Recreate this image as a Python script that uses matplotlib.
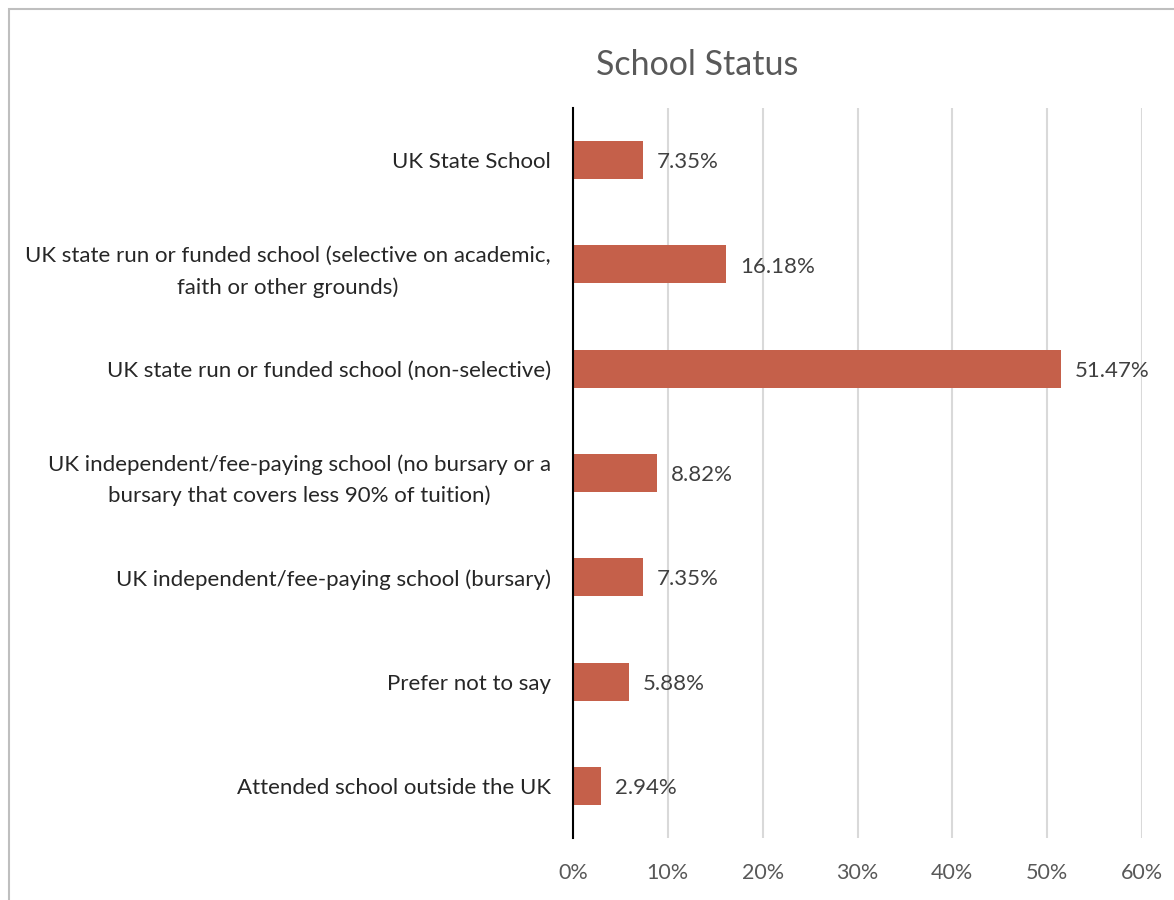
import matplotlib
matplotlib.use("Agg")
import matplotlib.pyplot as plt
from matplotlib.patches import Rectangle

categories = [
    "UK State School",
    "UK state run or funded school (selective on academic,\nfaith or other grounds)",
    "UK state run or funded school (non-selective)",
    "UK independent/fee-paying school (no bursary or a\nbursary that covers less 90% of tuition)",
    "UK independent/fee-paying school (bursary)",
    "Prefer not to say",
    "Attended school outside the UK",
]
values = [7.35, 16.18, 51.47, 8.82, 7.35, 5.88, 2.94]
xticks = [0, 10, 20, 30, 40, 50, 60]
xtick_labels = ["0%", "10%", "20%", "30%", "40%", "50%", "60%"]

plt.rcParams['font.family'] = ['Lato', 'DejaVu Sans']

fig = plt.figure(figsize=(11.74, 9.0), dpi=100)
ax = fig.add_axes([573/1174, 1-838/900, (1142-573)/1174, (838-108)/900])

n = len(categories)
ypos = list(range(n))
bar_color = "#C5604A"
ax.barh(ypos, values, height=0.365, color=bar_color, zorder=3)
ax.set_ylim(n - 0.5, -0.5)
ax.set_xlim(0, 60)

for y, v in zip(ypos, values):
    ax.annotate(f"{v:.2f}%", xy=(v, y), xytext=(10, -1.5), textcoords="offset points",
                va="center", ha="left", fontsize=16, color="#404040")

ax.set_yticks(ypos)
ax.set_yticklabels(categories, fontsize=16, color="#262626", linespacing=1.65)
ax.tick_params(axis='y', length=0, pad=16)
for lbl in ax.get_yticklabels():
    lbl.set_horizontalalignment('right')
    lbl.set_multialignment('center')

ax.set_xticks(xticks)
ax.set_xticklabels(xtick_labels, fontsize=15.5, color="#595959")
ax.tick_params(axis='x', length=0, pad=18)

ax.grid(axis='x', color="#D9D9D9", linewidth=1.5, zorder=0)
for s in ["top", "right", "bottom"]:
    ax.spines[s].set_visible(False)
ax.spines["left"].set_color("black")
ax.spines["left"].set_linewidth(1.5)
ax.spines["left"].set_zorder(4)

fig.text(697/1174, 1-65/900, "School Status", ha="center", va="center",
         fontsize=24.5, color="#595959")

fig.patches.append(Rectangle((9/1174, -0.2), 1.2, 1.2 - 9/900, transform=fig.transFigure,
                             fill=False, edgecolor="#BFBFBF", linewidth=1.5))

fig.savefig("out.png", dpi=100)
